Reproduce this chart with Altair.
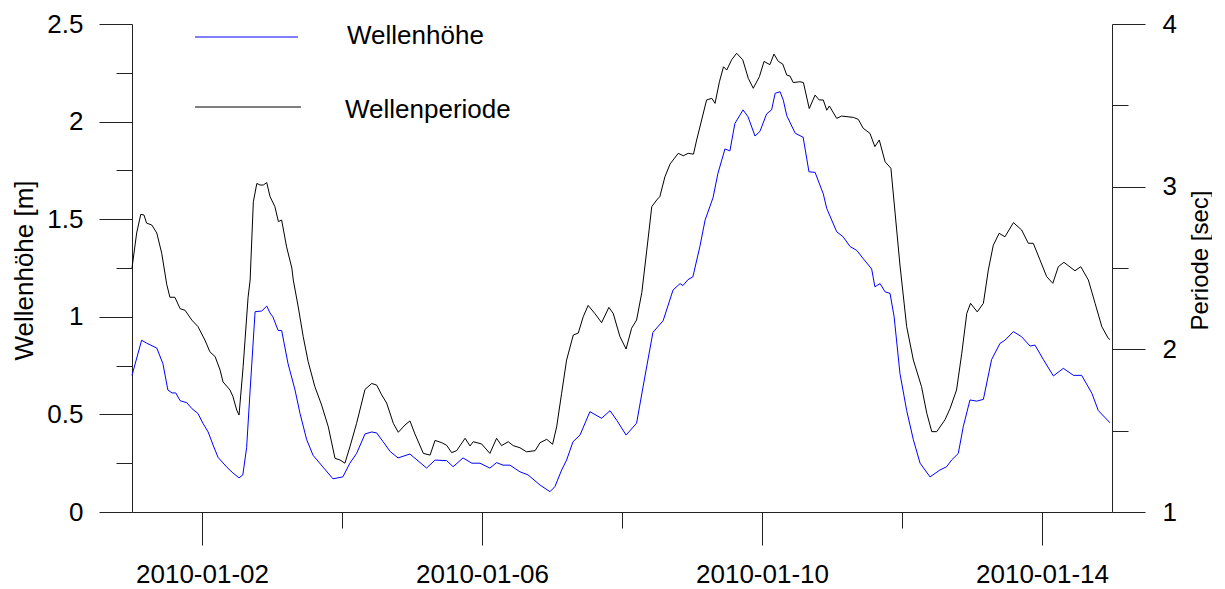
import altair as alt
import pandas as pd

# Wellenhöhe (m): hours after 2010-01-01 00:00 and values
h_hours = [0, 3.3, 5.0, 8.5, 10.6, 12.3, 13.7, 15.0, 16.5, 18.8, 20.5, 22.6, 24.3, 26.1, 27.8, 29.5,
           32.5, 34.6, 36.7, 38.0, 39.3, 40.5, 42.2, 44.5, 46.2, 47.3, 48.3, 50.1, 51.3, 53.5, 55.9,
           57.6, 59.9, 62.1, 65.5, 68.9, 72.3, 74.7, 77.0, 79.9, 82.2, 83.9, 86.1, 88.5, 91.2, 95.3,
           101.0, 103.9, 107.9, 110.1, 113.5, 116.5, 119.3, 122.7, 125.0, 127.2, 129.6, 133.0, 135.8,
           139.9, 143.3, 145.0, 147.3, 149.0, 151.2, 153.6, 157.0, 161.0, 163.9, 166.2, 169.4, 173.0,
           175.2, 178.6, 182.1, 185.5, 187.9, 188.9, 190.6, 192.3, 194.7, 196.5, 199.2, 200.9, 203.3,
           205.0, 206.7, 209.5, 211.2, 213.6, 215.3, 217.6, 219.3, 220.5, 222.2, 223.3, 224.5, 227.4,
           230.1, 232.1, 234.2, 237.0, 238.2, 241.6, 243.8, 246.2, 248.5, 250.6, 253.6, 254.7, 256.5,
           258.2, 259.9, 261.3, 263.3, 265.6, 267.9, 270.2, 273.6, 277.0, 279.3, 281.0, 283.3, 285.0,
           287.3, 289.6, 291.9, 294.7, 297.6, 299.3, 302.2, 305.0, 307.9, 309.6, 312.5, 315.9, 319.3,
           322.8, 325.6, 329.1, 331.3, 335.3]
h_vals = [0.70, 0.88, 0.865, 0.84, 0.76, 0.625, 0.61, 0.61, 0.57, 0.56, 0.53, 0.505, 0.455, 0.41, 0.343, 0.28,
          0.23, 0.20, 0.175, 0.19, 0.33, 0.625, 1.026, 1.03, 1.055, 1.02, 1.0, 0.93, 0.93, 0.76, 0.625,
          0.505, 0.37, 0.29, 0.23, 0.17, 0.18, 0.25, 0.30, 0.40, 0.41, 0.405, 0.36, 0.31, 0.277, 0.297,
          0.225, 0.266, 0.263, 0.232, 0.277, 0.25, 0.25, 0.225, 0.253, 0.24, 0.24, 0.206,
          0.19, 0.138, 0.104, 0.13, 0.215, 0.266, 0.36, 0.394, 0.514, 0.48, 0.519, 0.47, 0.394, 0.455,
          0.64, 0.92, 0.98, 1.137, 1.17, 1.16, 1.19, 1.205, 1.36, 1.496, 1.61, 1.735, 1.86,
          1.85, 1.99, 2.06, 2.025, 1.926, 1.95, 2.04, 2.06, 2.145, 2.153, 2.11, 2.03, 1.94,
          1.92, 1.743, 1.74, 1.63, 1.555, 1.436, 1.41, 1.36, 1.34, 1.30, 1.245, 1.154, 1.17,
          1.128, 1.12, 1.0, 0.71, 0.52, 0.37, 0.25, 0.18, 0.215, 0.232, 0.266, 0.30, 0.437,
          0.574, 0.568, 0.577, 0.78, 0.864, 0.88, 0.924, 0.898, 0.85, 0.855, 0.78, 0.697, 0.736,
          0.70, 0.70, 0.608, 0.52, 0.457]

# Wellenperiode (sec)
p_hours = [0, 1.6, 3.0, 4.1, 5.0, 6.8, 8.5, 10.2, 11.9, 13.0, 14.7, 16.5, 18.2, 20.5, 22.6, 25.0, 26.7,
           28.5, 30.2, 31.2, 33.6, 34.6, 35.9, 36.7, 38.1, 39.8, 40.5, 41.6, 42.8, 43.9, 45.0, 46.2,
           47.3, 49.0, 50.2, 51.3, 53.0, 54.8, 55.3, 57.0, 58.7, 60.4, 62.7, 65.0, 67.3, 69.6, 71.3,
           73.0, 74.7, 77.0, 79.9, 82.2, 83.9, 85.6, 87.3, 89.6, 91.3, 93.6, 95.3, 97.0, 99.9, 102.2,
           103.9, 106.2, 107.9, 109.6, 111.3, 114.2, 115.9, 117.0, 119.9, 122.7, 125.0, 126.7, 129.0,
           130.7, 133.0, 135.3, 138.2, 139.9, 142.2, 144.2, 145.6, 147.3, 149.0, 151.3, 153.0, 154.7,
           156.4, 158.7, 161.0, 163.5, 165.0, 167.3, 169.4, 171.3, 173.0, 174.8, 176.5, 178.2, 179.9,
           181.0, 182.7, 184.5, 187.3, 189.0, 190.7, 192.5, 193.6, 195.3, 197.0, 198.8, 199.9, 201.4,
           202.8, 203.9, 205.6, 207.3, 209.4, 211.3, 213.0, 215.1, 216.7, 218.7, 220.1, 221.6, 223.1,
           224.5, 225.6, 226.7, 229.0, 230.2, 232.2, 234.2, 235.6, 237.0, 238.2, 239.1, 241.6, 243.3,
           247.3, 249.0, 250.7, 253.0, 254.7, 256.2, 258.2, 260.2, 263.3, 265.6, 267.9, 270.7, 272.5,
           274.2, 275.9, 278.7, 280.5, 282.7, 284.5, 286.2, 287.5, 289.8, 291.9, 293.6, 295.3, 297.3,
           299.3, 302.2, 305.0, 307.3, 309.0, 311.3, 313.6, 315.7, 317.6, 319.5, 323.3, 325.3, 327.9,
           330.2, 332.5, 334.7, 335.3]
p_vals = [2.50, 2.715, 2.83, 2.826, 2.776, 2.764, 2.715, 2.59, 2.40, 2.32, 2.32, 2.25, 2.24, 2.18, 2.14, 2.057, 1.985,
          1.955, 1.873, 1.80, 1.75, 1.71, 1.627, 1.596, 1.893, 2.32, 2.426, 2.907, 3.02, 3.01, 3.01, 3.025,
          2.94, 2.877, 2.785, 2.795, 2.63, 2.50, 2.426, 2.26, 2.078, 1.924, 1.77, 1.658, 1.524, 1.33, 1.32,
          1.30, 1.40, 1.545, 1.754, 1.79, 1.78, 1.72, 1.67, 1.545, 1.49, 1.535, 1.56, 1.48, 1.36, 1.35,
          1.44, 1.426, 1.41, 1.365, 1.377, 1.453, 1.406, 1.432, 1.418, 1.36, 1.453, 1.408, 1.432,
          1.408, 1.395, 1.37, 1.377, 1.426, 1.447, 1.416, 1.524, 1.73, 1.934, 2.088, 2.10, 2.20,
          2.27, 2.22, 2.164, 2.258, 2.22, 2.078, 2.002, 2.13, 2.18, 2.35, 2.61, 2.877, 2.918,
          2.94, 3.06, 3.14, 3.205, 3.19, 3.205, 3.20, 3.287, 3.41, 3.533, 3.543, 3.512, 3.645,
          3.737, 3.717, 3.78, 3.82, 3.78, 3.666, 3.605, 3.676, 3.77, 3.75, 3.815, 3.77, 3.754,
          3.686, 3.68, 3.64, 3.645, 3.64, 3.48, 3.563, 3.533, 3.533, 3.47, 3.496, 3.42, 3.434,
          3.426, 3.414, 3.359, 3.328, 3.246, 3.287, 3.153, 3.113, 2.518, 2.14, 1.934, 1.77, 1.607,
          1.494, 1.494, 1.566, 1.637, 1.75, 1.976, 2.22, 2.283, 2.23, 2.283, 2.488, 2.64, 2.713,
          2.692, 2.779, 2.734, 2.652, 2.652, 2.55, 2.447, 2.406, 2.508, 2.535, 2.483, 2.508, 2.426,
          2.283, 2.14, 2.068, 2.06]

legend_labels = ["Wellenhöhe", "Wellenperiode"]
left_ticks = [0, 0.25, 0.5, 0.75, 1, 1.25, 1.5, 1.75, 2, 2.25, 2.5]
right_ticks = [1, 1.5, 2, 2.5, 3, 3.5, 4]
x_tick_days = [2, 4, 6, 8, 10, 12, 14]

FONT = "Liberation Sans, Arial, sans-serif"
start = pd.Timestamp("2010-01-01 00:00")
df_h = pd.DataFrame({"t": [(start + pd.Timedelta(hours=v)).strftime("%Y-%m-%dT%H:%M:%S") for v in h_hours],
                     "h": h_vals})
df_p = pd.DataFrame({"t": [(start + pd.Timedelta(hours=v)).strftime("%Y-%m-%dT%H:%M:%S") for v in p_hours],
                     "p": p_vals})

x_enc = alt.X(
    "t:T",
    scale=alt.Scale(domain=[alt.DateTime(year=2010, month=1, date=1),
                            alt.DateTime(year=2010, month=1, date=15)]),
    axis=alt.Axis(
        values=[alt.DateTime(year=2010, month=1, date=d) for d in x_tick_days],
        format="%Y-%m-%d",
        labelExpr="(date(datum.value) - 2) % 4 === 0 ? datum.label : ''",
        tickSize={"condition": {"test": "(date(datum.value) - 2) % 4 === 0", "value": 33}, "value": 16},
        labelPadding=16, labelFlush=False, labelOverlap=False,
        title=None, grid=False,
    ),
)

blue = alt.Chart(df_h).mark_line(color="#0000ff", strokeWidth=1).encode(
    x=x_enc,
    y=alt.Y("h:Q", scale=alt.Scale(domain=[0, 2.5], nice=False, zero=False),
            axis=alt.Axis(values=left_ticks, orient="left", format="~g",
                          labelExpr="datum.value % 0.5 === 0 ? datum.label : ''",
                          tickSize={"condition": {"test": "datum.value % 0.5 === 0", "value": 33}, "value": 16},
                          labelPadding=16, labelOverlap=False, grid=False,
                          title="Wellenhöhe [m]", titleFontSize=26, titleAngle=270,
                          titleX=-100, titleY=246, titleBaseline="alphabetic", titleAlign="center")),
)

black = alt.Chart(df_p).mark_line(color="#000000", strokeWidth=1).encode(
    x=alt.X("t:T"),
    y=alt.Y("p:Q", scale=alt.Scale(domain=[1, 4], nice=False, zero=False),
            axis=alt.Axis(values=right_ticks, orient="right", format="~g",
                          labelExpr="datum.value % 1 === 0 ? datum.label : ''",
                          tickSize={"condition": {"test": "datum.value % 1 === 0", "value": 33}, "value": 16},
                          labelPadding=17, labelOverlap=False, grid=False,
                          title="Periode [sec]", titleFontSize=24, titleAngle=270,
                          titleX=95, titleY=236, titleBaseline="alphabetic", titleAlign="center")),
)

leg_df1 = pd.DataFrame({"label": [legend_labels[0]]})
leg_df2 = pd.DataFrame({"label": [legend_labels[1]]})
leg_line1 = alt.Chart(leg_df1).mark_rule(color="#0000ff", strokeWidth=1).encode(
    x=alt.value(63), x2=alt.value(166), y=alt.value(13))
leg_line2 = alt.Chart(leg_df2).mark_rule(color="#000000", strokeWidth=1).encode(
    x=alt.value(63), x2=alt.value(169), y=alt.value(83))
leg_text1 = alt.Chart(leg_df1).mark_text(align="left", baseline="middle", fontSize=26, font=FONT,
                                         color="black").encode(
    x=alt.value(215), y=alt.value(12), text="label:N")
leg_text2 = alt.Chart(leg_df2).mark_text(align="left", baseline="middle", fontSize=26, font=FONT,
                                         color="black").encode(
    x=alt.value(213), y=alt.value(86), text="label:N")

chart = alt.layer(blue, black, leg_line1, leg_line2, leg_text1, leg_text2).resolve_scale(
    y="independent"
).properties(
    width=980, height=488,
    autosize=alt.AutoSizeParams(type="none"),
    padding={"left": 124, "top": 16, "right": 100, "bottom": 76},
).configure_view(stroke=None).configure_axis(
    labelFont=FONT, titleFont=FONT, labelFontSize=26, labelColor="black", titleColor="black",
    titleFontWeight="normal", domainColor="#222222", tickColor="#222222", domainWidth=1, tickWidth=1,
)

chart.save("out.html", embed_options={"renderer": "svg", "actions": False})
